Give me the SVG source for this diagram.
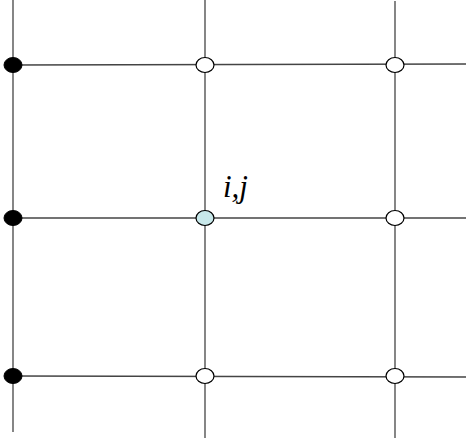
<svg xmlns="http://www.w3.org/2000/svg" width="468" height="442" viewBox="0 0 468 442">
<style>
.ln{stroke:#444;stroke-width:1.3;fill:none}
.open{fill:#fff;stroke:#000;stroke-width:1.2}
.solid{fill:#000;stroke:#000;stroke-width:1}
.cur{fill:#c8e8ea;stroke:#000;stroke-width:1.2}
.lbl{font-family:"Liberation Serif",serif;font-style:italic;font-size:31px;fill:#000}
</style>
<g id="connectors">
<line class="ln" x1="13" y1="0" x2="13" y2="432"/>
<line class="ln" x1="205" y1="0" x2="205" y2="438"/>
<line class="ln" x1="395" y1="1" x2="395" y2="438"/>
<line class="ln" x1="13" y1="65" x2="466" y2="64"/>
<line class="ln" x1="13" y1="218" x2="466" y2="218"/>
<line class="ln" x1="13" y1="376" x2="466" y2="377"/>
</g>
<g id="n-0-0"><ellipse class="solid" cx="13" cy="65" rx="9" ry="7.5"/></g>
<g id="n-0-1"><ellipse class="solid" cx="13" cy="218" rx="9" ry="7.5"/></g>
<g id="n-0-2"><ellipse class="solid" cx="13" cy="376" rx="9" ry="7.5"/></g>
<g id="n-1-0"><ellipse class="open" cx="205" cy="65" rx="9" ry="7.5"/></g>
<g id="n-1-1"><ellipse class="cur" cx="205" cy="218" rx="9" ry="7.5"/><text class="lbl" x="223" y="197">i,j</text></g>
<g id="n-1-2"><ellipse class="open" cx="205" cy="376" rx="9" ry="7.5"/></g>
<g id="n-2-0"><ellipse class="open" cx="395" cy="65" rx="9" ry="7.5"/></g>
<g id="n-2-1"><ellipse class="open" cx="395" cy="218" rx="9" ry="7.5"/></g>
<g id="n-2-2"><ellipse class="open" cx="395" cy="376" rx="9" ry="7.5"/></g>
</svg>
